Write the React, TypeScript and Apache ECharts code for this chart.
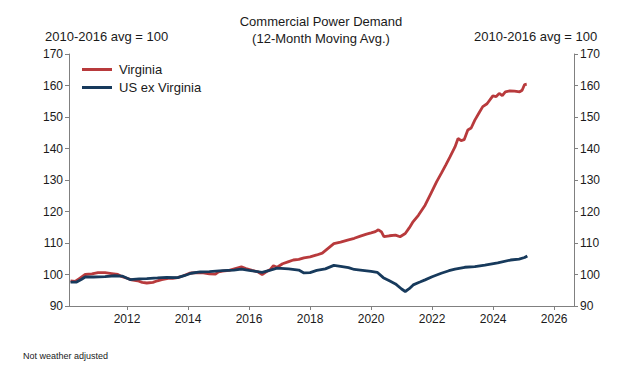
import React, { useEffect, useRef } from "react";
import * as echarts from "echarts";

const virginia: [number, number][] = [
  [2010.15, 98.0], [2010.3, 97.8], [2010.45, 98.8], [2010.63, 100.0], [2010.85, 100.2],
  [2011.05, 100.6], [2011.28, 100.6], [2011.5, 100.3], [2011.7, 100.0], [2011.84, 99.3],
  [2012.0, 98.8], [2012.15, 98.3], [2012.35, 98.0], [2012.5, 97.5], [2012.65, 97.3],
  [2012.85, 97.5], [2013.0, 98.0], [2013.14, 98.4], [2013.35, 98.8], [2013.5, 98.8],
  [2013.66, 99.0], [2013.85, 99.6], [2014.05, 100.4], [2014.25, 100.6], [2014.5, 100.5],
  [2014.7, 100.2], [2014.9, 100.1], [2015.0, 100.8], [2015.13, 101.1], [2015.35, 101.3],
  [2015.55, 101.9], [2015.75, 102.4], [2015.9, 101.9], [2016.1, 101.3], [2016.3, 100.8],
  [2016.43, 100.0], [2016.55, 100.8], [2016.7, 101.6], [2016.8, 102.8], [2016.92, 102.3],
  [2017.1, 103.4], [2017.3, 104.1], [2017.45, 104.6], [2017.63, 104.8], [2017.8, 105.3],
  [2018.0, 105.6], [2018.22, 106.2], [2018.4, 106.8], [2018.55, 108.0], [2018.78, 109.8],
  [2019.0, 110.3], [2019.26, 111.0], [2019.45, 111.5], [2019.65, 112.2], [2019.85, 112.8],
  [2020.0, 113.2], [2020.14, 113.6], [2020.24, 114.2], [2020.34, 113.5], [2020.42, 112.0],
  [2020.6, 112.3], [2020.8, 112.5], [2020.95, 112.0], [2021.12, 113.0], [2021.25, 114.8],
  [2021.38, 116.8], [2021.55, 118.8], [2021.77, 122.0], [2021.97, 125.9], [2022.15, 129.5],
  [2022.3, 132.1], [2022.45, 134.8], [2022.59, 137.4], [2022.75, 140.5], [2022.85, 143.2],
  [2022.95, 142.5], [2023.05, 142.8], [2023.17, 145.9], [2023.28, 146.5], [2023.4, 149.0],
  [2023.55, 151.5], [2023.66, 153.3], [2023.8, 154.2], [2023.99, 156.7], [2024.1, 156.5],
  [2024.2, 157.5], [2024.3, 156.8], [2024.4, 158.0], [2024.55, 158.3], [2024.7, 158.2],
  [2024.87, 158.0], [2024.95, 158.5], [2025.03, 160.3], [2025.1, 160.4],
];

const usExVirginia: [number, number][] = [
  [2010.15, 97.6], [2010.35, 97.6], [2010.5, 98.4], [2010.63, 99.2], [2010.9, 99.2],
  [2011.28, 99.3], [2011.6, 99.6], [2011.84, 99.5], [2012.1, 98.4], [2012.4, 98.6],
  [2012.65, 98.7], [2013.0, 98.9], [2013.3, 99.1], [2013.66, 99.0], [2013.9, 99.7],
  [2014.1, 100.4], [2014.4, 100.8], [2014.7, 100.9], [2015.13, 101.2], [2015.5, 101.4],
  [2015.75, 101.7], [2016.0, 101.3], [2016.43, 100.7], [2016.7, 101.4], [2016.92, 102.0],
  [2017.3, 101.8], [2017.63, 101.4], [2017.8, 100.5], [2018.0, 100.6], [2018.22, 101.3],
  [2018.5, 101.8], [2018.78, 102.9], [2019.0, 102.6], [2019.26, 102.2], [2019.45, 101.6],
  [2019.65, 101.4], [2020.0, 101.0], [2020.2, 100.7], [2020.4, 99.0], [2020.6, 98.0],
  [2020.8, 97.0], [2021.0, 95.4], [2021.12, 94.6], [2021.25, 95.5], [2021.38, 96.7],
  [2021.6, 97.6], [2021.77, 98.3], [2022.0, 99.3], [2022.3, 100.4], [2022.55, 101.2],
  [2022.75, 101.7], [2023.07, 102.3], [2023.4, 102.5], [2023.73, 103.0], [2024.15, 103.7],
  [2024.57, 104.6], [2024.85, 104.9], [2025.03, 105.4], [2025.12, 105.9],
];

const xTicks = [2012, 2014, 2016, 2018, 2020, 2022, 2024, 2026];
const titleText = "Commercial Power Demand\n(12-Month Moving Avg.)";
const axisUnit = "2010-2016 avg = 100";
const footnote = "Not weather adjusted";

const FONT = "Liberation Sans, Arial, sans-serif";
const TXT = "#1a1a1a";
const AXIS = "#808080";

export default function App() {
  const ref = useRef<HTMLDivElement>(null);
  useEffect(() => {
    if (!ref.current) return;
    const chart = echarts.init(ref.current, null, { renderer: "svg" });
    const yAxisBase = {
      type: "value" as const,
      min: 90,
      max: 170,
      interval: 10,
      splitLine: { show: false },
      axisLine: { show: true, lineStyle: { color: AXIS, width: 1 } },
      axisTick: { show: true, length: 4, lineStyle: { color: AXIS } },
      axisLabel: { color: TXT, fontSize: 12, fontFamily: FONT, margin: 6 },
    };
    chart.setOption({
      animation: false,
      backgroundColor: "#ffffff",
      textStyle: { fontFamily: FONT },
      grid: { left: 69, right: 57, top: 54, bottom: 61, containLabel: false },
      graphic: [
        {
          type: "text",
          x: 321,
          y: 13,
          style: {
            text: titleText,
            fill: TXT,
            font: `13px ${FONT}`,
            textAlign: "center",
            lineHeight: 17,
          },
        },
        {
          type: "text",
          x: 45,
          y: 30,
          style: { text: axisUnit, fill: TXT, font: `13px ${FONT}` },
        },
        {
          type: "text",
          x: 474,
          y: 30,
          style: { text: axisUnit, fill: TXT, font: `13px ${FONT}` },
        },
        {
          type: "text",
          x: 23,
          y: 351,
          style: { text: footnote, fill: TXT, font: `9px ${FONT}` },
        },
      ],
      legend: {
        left: 77,
        top: 58,
        orient: "vertical",
        itemWidth: 30,
        itemHeight: 3,
        itemGap: 5,
        icon: "rect",
        textStyle: { color: TXT, fontSize: 13, fontFamily: FONT, padding: [0, 0, 0, 2] },
        data: ["Virginia", "US ex Virginia"],
      },
      xAxis: {
        type: "value",
        min: 2010.1,
        max: 2026.65,
        splitLine: { show: false },
        axisLine: { show: true, lineStyle: { color: AXIS, width: 1 } },
        axisTick: { show: true, length: 4, lineStyle: { color: AXIS }, customValues: xTicks },
        axisLabel: {
          color: TXT,
          fontSize: 12,
          fontFamily: FONT,
          margin: 7,
          customValues: xTicks,
          formatter: (v: number) => String(Math.round(v)),
        },
      },
      yAxis: [
        { ...yAxisBase, position: "left" },
        { ...yAxisBase, position: "right" },
      ],
      series: [
        {
          name: "Virginia",
          type: "line",
          data: virginia,
          showSymbol: false,
          symbol: "none",
          lineStyle: { color: "#b83a3c", width: 2.8 },
          itemStyle: { color: "#b83a3c" },
          z: 2,
        },
        {
          name: "US ex Virginia",
          type: "line",
          data: usExVirginia,
          showSymbol: false,
          symbol: "none",
          lineStyle: { color: "#173a5c", width: 2.8 },
          itemStyle: { color: "#173a5c" },
          z: 3,
        },
      ],
    });
    return () => chart.dispose();
  }, []);
  return <div ref={ref} style={{ width: 631, height: 367, position: "absolute", left: 0, top: 0 }} />;
}
